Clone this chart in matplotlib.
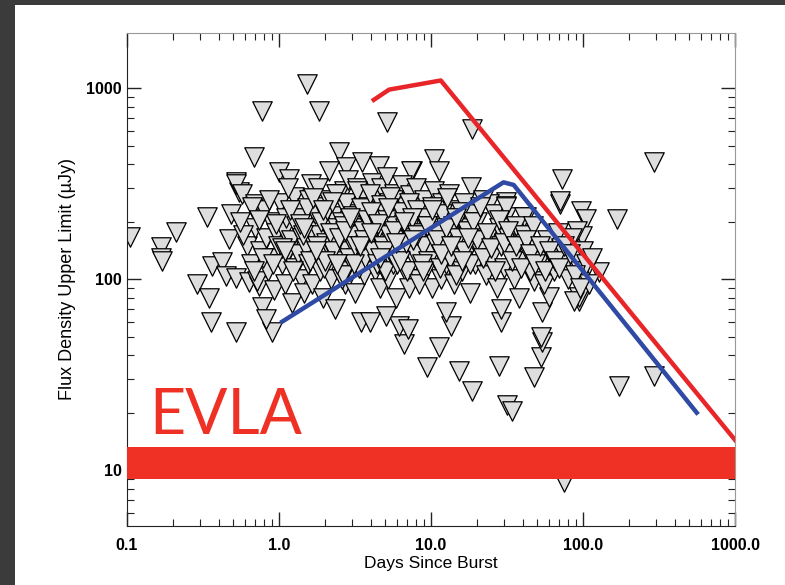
import matplotlib.pyplot as plt
from matplotlib.patches import Rectangle
from matplotlib.ticker import FixedLocator, FixedFormatter, LogLocator, NullFormatter

# upper limits: days since burst / flux density (uJy)
days = [
    # sparse outliers
    0.105, 0.168, 0.168, 0.170, 0.21, 0.336, 0.48, 0.29, 0.346, 0.357, 0.52, 0.9,
    0.52, 0.545, 0.36, 0.42, 0.45, 0.52, 0.47, 0.635, 0.77, 0.82, 0.74,
    1.53, 0.77, 1.83, 5.1, 18.6, 0.685, 293,
    6.6, 6.2, 7.1, 11.3, 9.4, 15.3, 18.6, 28, 31.6, 34, 47.6, 52.7, 53.6, 53.6,
    172, 75, 28.8, 28.8, 13.5, 12.5, 5.05, 94, 293,
    72.8, 167, 71, 97, 104, 98.6, 91, 127, 109, 94, 87, 59.5, 47.6, 53, 42, 31, 31,
    10.5, 7.5, 11.3, 18.3, 24, 31, 41, 71,
    2.48, 2.76, 2.13, 3.5, 4.55, 7.4, 1.0, 1.16, 0.52, 0.57, 0.7, 1.62, 2.68,
    # dense cloud
    0.62, 0.65, 0.7, 0.72, 0.75, 0.8, 0.82, 0.85, 0.88, 0.9, 0.93, 0.95, 0.98,
    1.02, 1.05, 1.08, 1.1, 1.12, 1.15, 1.2, 1.22, 1.25, 1.28, 1.3, 1.33, 1.36, 1.4,
    1.42, 1.45, 1.48, 1.5, 1.55, 1.58,
    1.62, 1.65, 1.7, 1.72, 1.75, 1.8, 1.82, 1.85, 1.9, 1.92, 1.95, 2.0, 2.05, 2.1,
    2.12, 2.15, 2.2, 2.25, 2.3, 2.35, 2.4, 2.45,
    2.5, 2.55, 2.6, 2.65, 2.7, 2.75, 2.8, 2.85, 2.9, 2.95, 3.0, 3.05, 3.1, 3.15,
    3.2, 3.25, 3.3, 3.35, 3.4, 3.45, 3.5, 3.55, 3.6, 3.65, 3.7, 3.8, 3.85, 3.9, 3.95,
    4.0, 4.1, 4.15, 4.2, 4.3, 4.35, 4.4, 4.5, 4.6, 4.65, 4.7, 4.8, 4.85, 4.9, 5.0,
    5.1, 5.15, 5.2, 5.3, 5.4, 5.5, 5.6, 5.7, 5.8, 5.9, 6.0, 6.1, 6.2, 6.3, 6.4,
    6.6, 6.7, 6.8, 6.9, 7.0, 7.2, 7.3, 7.4, 7.6, 7.8, 7.9, 8.0, 8.2, 8.4, 8.5, 8.7,
    8.9, 9.0, 9.2, 9.4, 9.6, 9.8, 10.0, 10.2, 10.4, 10.6, 10.8,
    11.0, 11.3, 11.6, 11.9, 12.2, 12.5, 12.8, 13.1, 13.4, 13.8, 14.1, 14.5, 14.9,
    15.3, 15.7, 16.1, 16.5, 17.0, 17.5, 18.0, 18.5, 19.0, 19.5,
    20, 21, 22, 23, 24, 25, 26, 27, 28, 29, 30, 31, 32, 33, 35, 36, 37, 38, 39,
    41, 43, 45, 47, 49, 52, 55, 58, 61, 64, 68, 72, 76, 80, 85, 90, 95, 100, 105,
    110, 115,
]
flux = [
    166, 147, 130, 124, 176, 211, 219, 94, 80, 60, 53, 53,
    322, 285, 117, 123, 104, 102, 162, 97, 72, 62, 92,
    1050, 760, 760, 665, 610, 435, 410,
    45.7, 57, 55, 44, 34.6, 33, 25.9, 35, 22, 20.4, 30.7, 39, 47, 67,
    27.6, 8.7, 59.6, 70, 57, 67, 64, 77, 31,
    334, 206, 247, 227, 206, 168, 178, 109, 120, 81, 77, 81, 97.5, 50, 213, 253, 213,
    425, 368, 368, 303, 247, 241, 211, 256,
    462, 386, 368, 410, 390, 368, 363, 334, 314, 279, 247, 314, 289,
    150, 120, 185, 98, 140, 230, 165, 110, 200, 130, 88, 175, 150,
    250, 120, 180, 95, 210, 140, 160, 75, 270, 115, 190, 135, 230, 100,
    165, 85, 205, 145, 120, 260,
    180, 95, 150, 220, 125, 300, 170, 110, 240, 140, 80, 195, 155, 260,
    120, 175, 100, 215, 135, 70, 185, 150,
    280, 125, 200, 160, 95, 230, 140, 330, 175, 110, 250, 150, 200, 85,
    130, 300, 165, 220, 120, 60, 185, 145, 270, 105, 210, 160, 240, 130, 60,
    190, 320, 150, 230, 110, 175, 260, 140, 200, 90, 300, 165, 125, 225, 185,
    345, 145, 100, 250, 160, 210, 120, 280, 175, 80, 230, 150, 195, 130, 310,
    170, 110, 240, 145, 200, 90, 275, 160, 215, 125, 185, 300, 150, 100, 235, 170,
    130, 260, 195, 115, 160, 220, 140, 90, 290, 175, 125,
    210, 150, 100, 250, 165, 120, 195, 280, 140, 230, 95, 175, 130,
    210, 155, 110, 250, 185, 140, 85, 220, 160, 120,
    200, 140, 260, 105, 170, 130, 220, 90, 185, 150, 115, 240, 165, 135, 100, 190, 150, 80, 125,
    170, 140, 110, 190, 150, 125, 95, 160, 135, 110, 175, 145, 120, 100, 165, 130, 110, 140, 120,
    95, 130,
]

# more limits in the crowded middle of the cloud
cloud_days = [
    0.58, 0.66, 0.78, 0.86, 0.96, 1.04, 1.14, 1.24, 1.34, 1.44,
    1.52, 1.6, 1.68, 1.78, 1.88, 1.98, 2.08, 2.18, 2.28, 2.38,
    2.48, 2.58, 2.68, 2.78, 2.88, 2.98, 3.08, 3.18, 3.28, 3.38,
    3.48, 3.58, 3.68, 3.78, 3.88, 3.98, 4.12, 4.25, 4.38, 4.52,
    4.68, 4.82, 4.96, 5.12, 5.28, 5.45, 5.62, 5.8, 5.98, 6.15,
    6.35, 6.55, 6.75, 6.95, 7.15, 7.35, 7.55, 7.8, 8.05, 8.3,
    8.6, 8.9, 9.2, 9.5, 9.85, 10.2, 10.6, 11.0, 11.4, 11.8,
    12.3, 12.8, 13.3, 13.9, 14.5, 15.1, 15.8, 16.5, 17.3, 18.1,
    19, 20, 21, 22, 23.5, 25, 26.5, 28, 30, 32,
    34, 36, 39, 42, 45, 48, 52, 56, 60, 65,
    70, 75, 82, 88, 96, 0.55, 0.68, 1.18, 2.02, 2.62,
    1.38, 1.74, 2.22, 2.72, 3.12, 3.62, 4.05, 4.45, 4.92, 5.35,
    5.75, 6.25, 6.85, 7.45, 8.15, 8.75, 9.35, 10.1, 10.9, 11.7,
    12.6, 13.6, 14.7, 16.0, 17.6, 0.74, 0.92, 1.1, 1.46, 1.94,
    2.42, 2.92, 3.42, 4.02, 4.62, 5.22, 5.92, 6.62, 7.62, 8.82,
]
cloud_flux = [
    170, 240, 130, 260, 195, 145, 300, 110, 210, 170,
    235, 125, 265, 150, 200, 115, 230, 175, 140, 280,
    165, 100, 190, 250, 130, 170, 215, 150, 290, 115,
    235, 180, 130, 205, 160, 280, 140, 215, 120, 185,
    245, 150, 110, 205, 170, 135, 260, 190, 120, 160,
    225, 140, 185, 110, 250, 165, 200, 135, 230, 95,
    175, 150, 210, 125, 190, 240, 155, 180, 115, 220,
    150, 265, 130, 190, 105, 165, 225, 140, 180, 120,
    200, 160, 240, 130, 175, 145, 110, 205, 155, 180,
    125, 150, 115, 160, 135, 120, 150, 110, 140, 125,
    115, 150, 135, 105, 90, 200, 110, 230, 125, 105,
    195, 140, 255, 180, 120, 160, 225, 195, 140, 270,
    180, 125, 155, 210, 170, 120, 190, 230, 160, 135,
    185, 150, 210, 125, 165, 205, 120, 140, 185, 230,
    120, 210, 150, 175, 130, 235, 155, 200, 160, 110,
]

# model light curves
red_days = [4.2, 5.3, 11.6, 1000]
red_flux = [870, 985, 1100, 14.4]
blue_days = [1.05, 30, 35, 560]
blue_flux = [60, 322, 312, 20]

band_low, band_high = 8.97, 13.2

fig = plt.figure(figsize=(7.85, 5.85), dpi=100, facecolor='#3b3b3b')
fig.patches.append(Rectangle((15 / 785, 0), 1, 1 - 5 / 585, transform=fig.transFigure,
                             facecolor='white', edgecolor='none', zorder=-5))
ax = fig.add_axes([127 / 785, 1 - 526 / 585, 608 / 785, 493 / 585])
ax.set_facecolor('none')

ax.scatter(days + cloud_days, flux + cloud_flux, marker='v', s=14 ** 2,
           facecolor='#dedede', edgecolor='black', linewidth=0.9, zorder=2)
ax.plot(red_days, red_flux, color='#e8262a', lw=3.2, zorder=3)
ax.plot(blue_days, blue_flux, color='#2f4aa5', lw=3.2, solid_joinstyle='round', zorder=3)
ax.axhspan(band_low, band_high, color='#ee3124', lw=0, zorder=4)
ax.text(0.14, 15.4, 'EVLA', color='#ee3124', fontsize=45, family='Lato', zorder=5)

ax.set_xscale('log')
ax.set_yscale('log')
ax.set_xlim(0.1, 1000)
ax.set_ylim(5.1, 1950)

ax.xaxis.set_major_locator(FixedLocator([0.1, 1, 10, 100, 1000]))
ax.xaxis.set_major_formatter(FixedFormatter(['0.1', '1.0', '10.0', '100.0', '1000.0']))
ax.yaxis.set_major_locator(FixedLocator([10, 100, 1000]))
ax.yaxis.set_major_formatter(FixedFormatter(['10', '100', '1000']))
ax.xaxis.set_minor_locator(LogLocator(base=10, subs=range(2, 10)))
ax.yaxis.set_minor_locator(LogLocator(base=10, subs=range(2, 10)))
ax.xaxis.set_minor_formatter(NullFormatter())
ax.yaxis.set_minor_formatter(NullFormatter())

ax.tick_params(which='both', direction='in', top=True, right=True, color='#222222')
ax.tick_params(which='major', length=10, width=1)
ax.tick_params(which='minor', length=5, width=0.8)
ax.tick_params(axis='x', labelsize=11.5, pad=9)
ax.tick_params(axis='y', labelsize=11.5, pad=4)
for lab in ax.get_xticklabels() + ax.get_yticklabels():
    lab.set_family('Liberation Sans')
    lab.set_fontweight('bold')

for side in ['left', 'bottom']:
    ax.spines[side].set_color('#222222')
for side in ['top', 'right']:
    ax.spines[side].set_color('#999999')

ax.set_xlabel('Days Since Burst', fontsize=12.5, family='Liberation Sans', labelpad=2)
ax.set_ylabel('Flux Density Upper Limit (\u00b5Jy)', fontsize=13, family='Liberation Sans',
              labelpad=7)

fig.savefig('out.png', dpi=100, facecolor=fig.get_facecolor())
